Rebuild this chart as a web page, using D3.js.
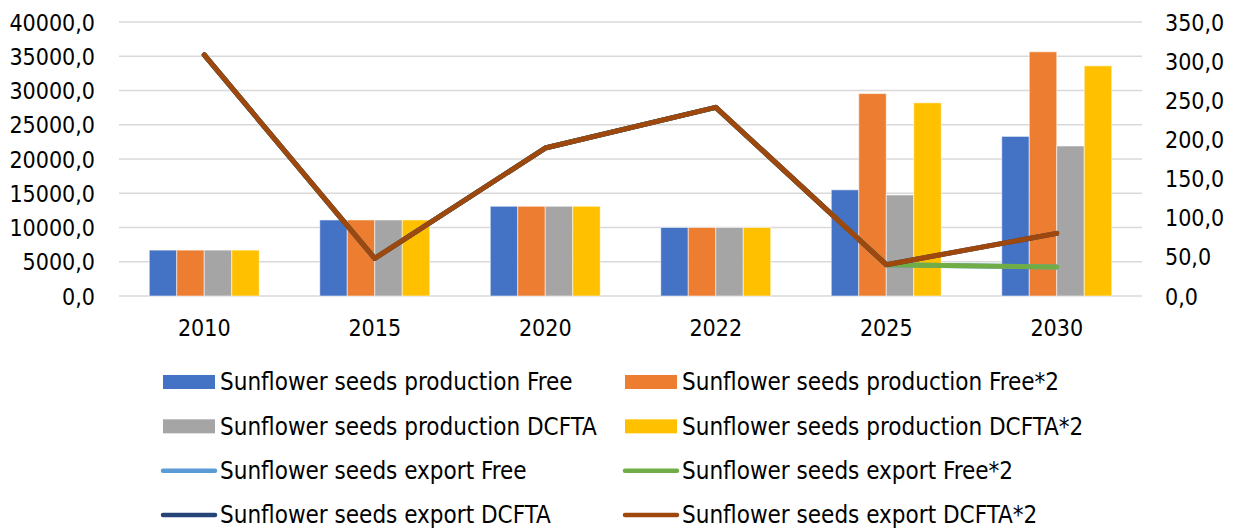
<!DOCTYPE html>
<html>
<head>
<meta charset="utf-8">
<script src="https://cdn.jsdelivr.net/npm/d3@7"></script>
<style>
  html, body { margin: 0; padding: 0; background: #fff; }
  svg { display: block; }
  text { font-family: "DejaVu Sans Condensed", "DejaVu Sans", sans-serif; font-stretch: condensed; fill: #000; }
</style>
</head>
<body>
<svg id="chart" width="1234" height="528"></svg>
<script>
// Years on the category axis
const years = ["2010", "2015", "2020", "2022", "2025", "2030"];

// Production (left axis)
const prodFree   = [6700, 11100, 13100, 10000, 15500, 23300];
const prodFree2  = [6700, 11100, 13100, 10000, 29550, 35650];
const prodDCFTA  = [6700, 11100, 13100, 10000, 14750, 21900];
const prodDCFTA2 = [6700, 11100, 13100, 10000, 28200, 33600];

// Export (right axis)
const expFree   = [308, 48, 189, 241, 40, 37];
const expFree2  = [308, 48, 189, 241, 40, 37];
const expDCFTA  = [308, 48, 189, 241, 40, 80];
const expDCFTA2 = [308, 48, 189, 241, 40, 80];

const leftTicks  = [0, 5000, 10000, 15000, 20000, 25000, 30000, 35000, 40000];
const rightTicks = [0, 50, 100, 150, 200, 250, 300, 350];

const barSeries = [
  { name: "Sunflower seeds production Free",    values: prodFree,   color: "#4472C4" },
  { name: "Sunflower seeds production Free*2",  values: prodFree2,  color: "#ED7D31" },
  { name: "Sunflower seeds production DCFTA",   values: prodDCFTA,  color: "#A5A5A5" },
  { name: "Sunflower seeds production DCFTA*2", values: prodDCFTA2, color: "#FFC000" }
];
const lineSeries = [
  { name: "Sunflower seeds export Free",    values: expFree,   color: "#5B9BD5" },
  { name: "Sunflower seeds export Free*2",  values: expFree2,  color: "#70AD47" },
  { name: "Sunflower seeds export DCFTA",   values: expDCFTA,  color: "#264478" },
  { name: "Sunflower seeds export DCFTA*2", values: expDCFTA2, color: "#9E480E" }
];

const svg = d3.select("#chart");
const plot = { left: 119, right: 1142, top: 22, bottom: 296 };

const x = d3.scaleBand().domain(years).range([plot.left, plot.right]).padding(0);
const groupW = x.bandwidth() * 0.645;
const xs = d3.scaleBand().domain(d3.range(barSeries.length)).range([-groupW / 2, groupW / 2]).padding(0);
const yL = d3.scaleLinear().domain([0, 40000]).range([plot.bottom, plot.top]);
const yR = d3.scaleLinear().domain([0, 350]).range([plot.bottom, plot.top]);
const fmt = v => d3.format(".1f")(v).replace(".", ",");

// Gridlines
svg.append("g")
  .selectAll("line").data(leftTicks).join("line")
  .attr("x1", plot.left).attr("x2", plot.right)
  .attr("y1", d => yL(d)).attr("y2", d => yL(d))
  .attr("stroke", "#d9d9d9").attr("stroke-width", 1.5);

// Left axis
const axL = svg.append("g").attr("transform", `translate(${plot.left},0)`)
  .call(d3.axisLeft(yL).tickValues(leftTicks).tickFormat(fmt).tickSize(0).tickPadding(24));
axL.select(".domain").remove();
axL.selectAll("text").attr("font-size", 23).attr("dy", "0.35em");

// Right axis
const axR = svg.append("g").attr("transform", `translate(${plot.right},0)`)
  .call(d3.axisRight(yR).tickValues(rightTicks).tickFormat(fmt).tickSize(0).tickPadding(23));
axR.select(".domain").remove();
axR.selectAll("text").attr("font-size", 23).attr("dy", "0.35em");

// Category axis
const axX = svg.append("g").attr("transform", `translate(0,${plot.bottom})`)
  .call(d3.axisBottom(x).tickSize(0).tickPadding(24));
axX.select(".domain").remove();
axX.selectAll("text").attr("font-size", 23);

[axL, axR, axX].forEach(a => a.attr("font-family", null).attr("font-size", null));

// Bars
barSeries.forEach((s, i) => {
  svg.append("g")
    .selectAll("rect").data(s.values).join("rect")
    .attr("x", (d, j) => x(years[j]) + x.bandwidth() / 2 + xs(i))
    .attr("width", xs.bandwidth())
    .attr("y", d => yL(d))
    .attr("height", d => yL(0) - yL(d))
    .attr("fill", s.color)
    .attr("stroke", "#fff").attr("stroke-opacity", 0.55).attr("stroke-width", 1);
});

// Lines
const line = d3.line()
  .x((d, j) => x(years[j]) + x.bandwidth() / 2)
  .y(d => yR(d));
lineSeries.forEach(s => {
  svg.append("path").datum(s.values)
    .attr("d", line)
    .attr("fill", "none")
    .attr("stroke", s.color)
    .attr("stroke-width", 5)
    .attr("stroke-linecap", "round")
    .attr("stroke-linejoin", "round");
});

// Legend: two columns, bars first then lines
const legendItems = [];
for (let r = 0; r < 2; r++) {
  legendItems.push({ ...barSeries[r * 2], type: "bar", row: r, col: 0 });
  legendItems.push({ ...barSeries[r * 2 + 1], type: "bar", row: r, col: 1 });
}
for (let r = 0; r < 2; r++) {
  legendItems.push({ ...lineSeries[r * 2], type: "line", row: r + 2, col: 0 });
  legendItems.push({ ...lineSeries[r * 2 + 1], type: "line", row: r + 2, col: 1 });
}
const colX = [163, 625];
const rowY = d3.scaleLinear().domain([0, 3]).range([382, 515]);
const lg = svg.append("g");
legendItems.forEach(it => {
  const x0 = colX[it.col], cy = rowY(it.row);
  if (it.type === "bar") {
    lg.append("rect").attr("x", x0).attr("y", cy - 7).attr("width", 52).attr("height", 14).attr("fill", it.color);
  } else {
    lg.append("line").attr("x1", x0).attr("x2", x0 + 52).attr("y1", cy).attr("y2", cy)
      .attr("stroke", it.color).attr("stroke-width", 4.5).attr("stroke-linecap", "round");
  }
  lg.append("text").attr("x", x0 + 57).attr("y", cy).attr("dy", "0.35em")
    .attr("font-size", 24).text(it.name);
});
</script>
</body>
</html>
